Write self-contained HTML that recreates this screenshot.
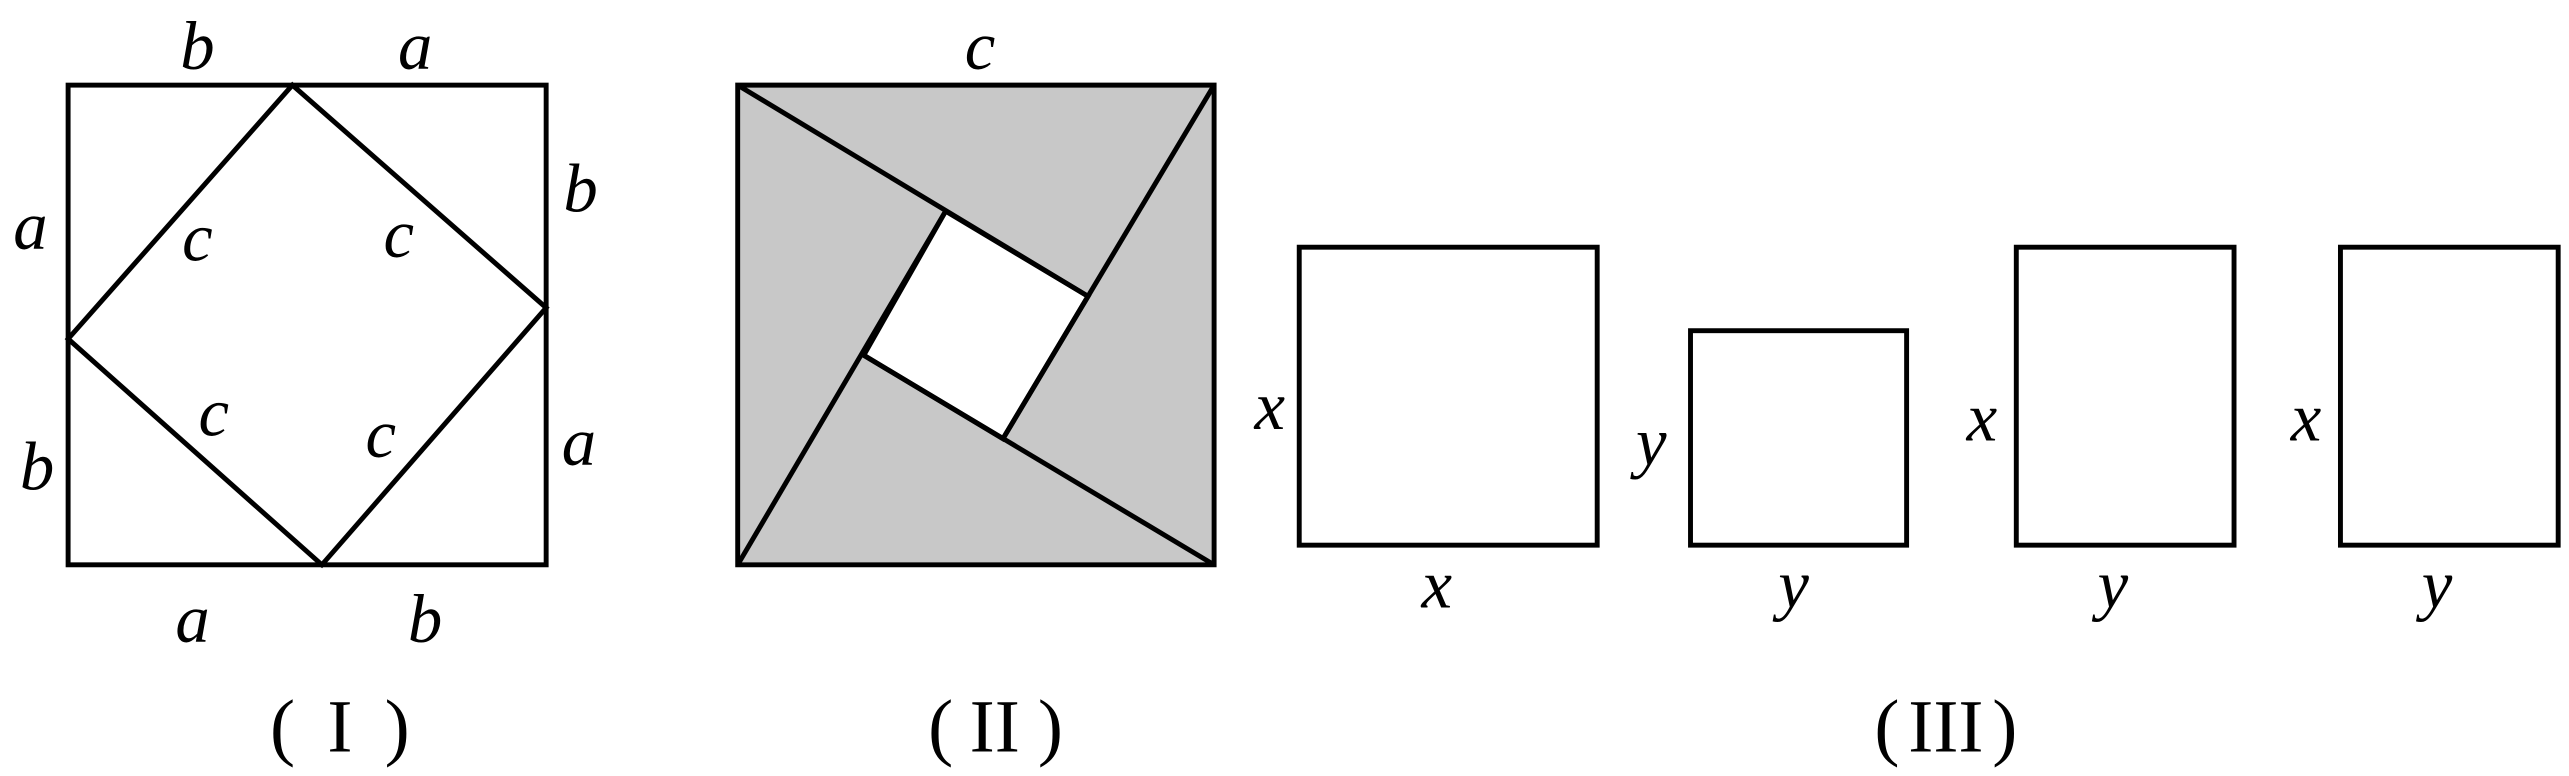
<!DOCTYPE html>
<html><head><meta charset="utf-8"><style>
html,body{margin:0;padding:0;background:#fff;}
svg{display:block;}
text{font-family:"Liberation Serif",serif;font-style:italic;font-size:42px;fill:#000;}
.r{font-style:normal;font-size:46px;}
</style></head><body>
<svg width="2569" height="776" viewBox="0 0 1568 474" xmlns="http://www.w3.org/2000/svg">
<g fill="none" stroke="#000" stroke-width="3" stroke-linejoin="miter">
<rect x="41" y="52" width="292" height="293"/>
<polygon points="178,52 333,188 196,345 41,207"/>
<polygon points="450,52 741,52 741,345 450,345" fill="#c8c8c8"/>
<polygon points="577,129 664,181 612,268 527,217" fill="#fff"/>
<line x1="450" y1="52" x2="664" y2="181"/>
<line x1="741" y1="52" x2="612" y2="268"/>
<line x1="741" y1="345" x2="527" y2="217"/>
<line x1="450" y1="345" x2="577" y2="129"/>
<rect x="793" y="151" width="182" height="182"/>
<rect x="1032" y="202" width="132" height="131"/>
<rect x="1231" y="151" width="133" height="182"/>
<rect x="1429" y="151" width="133" height="182"/>
</g>
<g text-anchor="middle" dominant-baseline="central">
<text x="120" y="28">b</text><text x="253" y="28">a</text>
<text x="18" y="138">a</text><text x="354" y="115">b</text>
<text x="120" y="145">c</text><text x="243" y="143">c</text>
<text x="22" y="285">b</text><text x="353" y="270">a</text>
<text x="130" y="252">c</text><text x="232" y="265">c</text>
<text x="117" y="378">a</text><text x="259" y="378">b</text>
<text x="598" y="28">c</text>
<text x="775" y="248">x</text><text x="877" y="357">x</text>
<text x="1008" y="270">y</text><text x="1095" y="357">y</text>
<text x="1210" y="255">x</text><text x="1290" y="357">y</text>
<text x="1408" y="255">x</text><text x="1488" y="357">y</text>
<text class="r" x="172" y="444">(</text><text class="r" x="207" y="444">I</text><text class="r" x="242" y="444">)</text>
<text class="r" x="574" y="444">(</text><text class="r" x="607" y="444">II</text><text class="r" x="641" y="444">)</text>
<text class="r" x="1152" y="444">(</text><text class="r" x="1188" y="444">III</text><text class="r" x="1224" y="444">)</text>
</g>
</svg>
</body></html>
